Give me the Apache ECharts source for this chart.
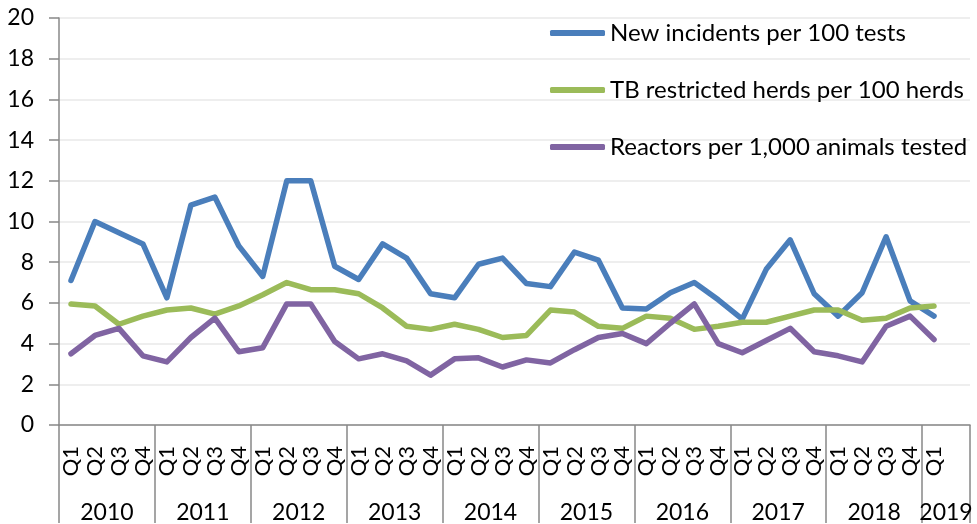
<!DOCTYPE html>
<html>
<head>
<meta charset="utf-8">
<script src="https://cdn.jsdelivr.net/npm/echarts@6/dist/echarts.min.js"></script>
<style>
  html, body { margin: 0; padding: 0; background: #fff; }
  #main { width: 977px; height: 524px; }
</style>
</head>
<body>
<div id="main"></div>
<script>
// quarters 2010 Q1 .. 2019 Q1, plus one empty slot at the end
var quarters = [];
var years = ['2010', '2011', '2012', '2013', '2014', '2015', '2016', '2017', '2018'];
for (var y = 0; y < years.length; y++) {
    quarters.push('Q1', 'Q2', 'Q3', 'Q4');
}
quarters.push('Q1', '');

var newIncidents = [7.1, 10.0, 9.45, 8.9, 6.25, 10.8, 11.2, 8.8, 7.3, 12.0, 12.0, 7.8,
                    7.15, 8.9, 8.2, 6.45, 6.25, 7.9, 8.2, 6.95, 6.8, 8.5, 8.1, 5.75,
                    5.7, 6.5, 7.0, 6.15, 5.2, 7.65, 9.1, 6.45, 5.35, 6.5, 9.25, 6.1, 5.35];
var tbHerds = [5.95, 5.85, 4.95, 5.35, 5.65, 5.75, 5.45, 5.85, 6.4, 7.0, 6.65, 6.65,
               6.45, 5.75, 4.85, 4.7, 4.95, 4.7, 4.3, 4.4, 5.65, 5.55, 4.85, 4.75,
               5.35, 5.25, 4.7, 4.85, 5.05, 5.05, 5.35, 5.65, 5.65, 5.15, 5.25, 5.75, 5.85];
var reactors = [3.5, 4.4, 4.75, 3.4, 3.1, 4.3, 5.25, 3.6, 3.8, 5.95, 5.95, 4.1,
                3.25, 3.5, 3.15, 2.45, 3.25, 3.3, 2.85, 3.2, 3.05, 3.7, 4.3, 4.5,
                4.0, 5.0, 5.95, 4.0, 3.55, 4.15, 4.75, 3.6, 3.4, 3.1, 4.85, 5.35, 4.2];

// year band axis: one slot per quarter boundary (0..38)
var yearSlots = [];
for (var k = 0; k <= quarters.length; k++) { yearSlots.push(''); }
for (var y = 0; y < years.length; y++) { yearSlots[y * 4 + 2] = years[y]; }
yearSlots[37] = '2019';

var font = 'Lato, "Open Sans", sans-serif';
var axisGrey = '#888888';

var myChart = echarts.init(document.getElementById('main'));
var option = {
    animation: false,
    textStyle: { fontFamily: font },
    grid: { left: 59, right: 7, top: 18, bottom: 98, containLabel: false },
    legend: {
        orient: 'vertical', left: 550, top: 21, padding: 0,
        icon: 'roundRect', itemWidth: 55, itemHeight: 6, itemGap: 33,
        textStyle: { fontFamily: font, fontSize: 24, lineHeight: 24, color: '#000' },
        data: ['New incidents per 100 tests', 'TB restricted herds per 100 herds', 'Reactors per 1,000 animals tested']
    },
    xAxis: [
        {
            type: 'category', data: quarters, position: 'bottom', boundaryGap: true,
            axisLine: { lineStyle: { color: axisGrey, width: 1.5 } },
            axisTick: { length: 49, interval: 0, lineStyle: { color: axisGrey, width: 1.5 } },
            axisLabel: { interval: 0, rotate: 90, margin: 21, fontSize: 22, color: '#000', fontFamily: font }
        },
        {
            type: 'category', data: yearSlots, position: 'bottom', boundaryGap: false,
            axisLine: { show: false },
            axisTick: { length: 98, lineStyle: { color: axisGrey, width: 1.5 },
                interval: function (idx) { return idx % 4 === 0 || idx === 38; } },
            axisLabel: { interval: 0, margin: 76, fontSize: 23, color: '#000', fontFamily: font }
        }
    ],
    yAxis: {
        type: 'value', min: 0, max: 20, interval: 2,
        axisLine: { show: true, lineStyle: { color: axisGrey, width: 1.5 } },
        axisTick: { show: true, length: 10, lineStyle: { color: axisGrey, width: 1.5 } },
        axisLabel: { margin: 25, fontSize: 23, color: '#000', fontFamily: font },
        splitLine: { lineStyle: { color: '#eeeeee', width: 2 } }
    },
    series: [
        { name: 'New incidents per 100 tests', type: 'line', data: newIncidents, symbol: 'none',
          itemStyle: { color: '#4a7ebb' }, lineStyle: { width: 5.5, color: '#4a7ebb', join: 'round', cap: 'round' } },
        { name: 'TB restricted herds per 100 herds', type: 'line', data: tbHerds, symbol: 'none',
          itemStyle: { color: '#9bbb59' }, lineStyle: { width: 5.5, color: '#9bbb59', join: 'round', cap: 'round' } },
        { name: 'Reactors per 1,000 animals tested', type: 'line', data: reactors, symbol: 'none',
          itemStyle: { color: '#8064a2' }, lineStyle: { width: 5.5, color: '#8064a2', join: 'round', cap: 'round' } }
    ]
};
myChart.setOption(option);
window.addEventListener('resize', function () { myChart.resize(); });
</script>
</body>
</html>
